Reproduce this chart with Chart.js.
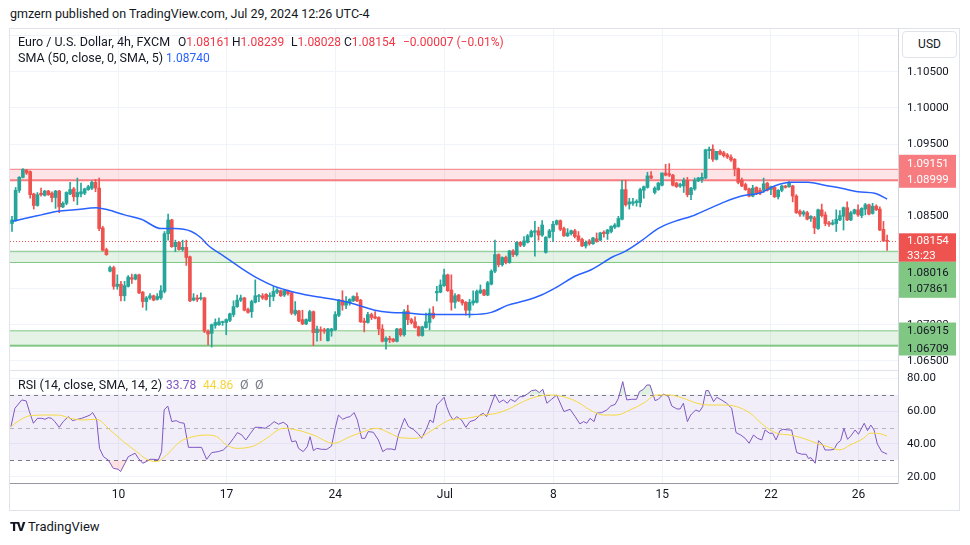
<!DOCTYPE html>
<html>
<head>
<meta charset="utf-8">
<title>EUR/USD 4h - TradingView</title>
<script src="https://cdn.jsdelivr.net/npm/chart.js@4.4.1/dist/chart.umd.min.js"></script>
<style>
  body { margin: 0; background: #fff; }
  #page { position: relative; width: 970px; height: 545px; overflow: hidden; font-family: Roboto, sans-serif; color: #131722; }
  #page canvas { position: absolute; left: 0; }
  .t { position: absolute; white-space: nowrap; line-height: 16px; font-size: 12.5px; }
  .v { font-size: 12px; }
  .rule { position: absolute; background: #E0E3EB; }
  .dn { color: #F23645; }
</style>
</head>
<body>
<div id="page">
  <canvas id="main" width="959" height="342" style="top:29px;width:959px;height:342px"></canvas>
  <canvas id="rsi" width="959" height="139" style="top:371px;width:959px;height:139px"></canvas>

  <div class="rule" style="left:9px;top:28px;width:951px;height:1px"></div>
  <div class="rule" style="left:9px;top:28px;width:1px;height:483px"></div>
  <div class="rule" style="left:959px;top:28px;width:1px;height:483px"></div>
  <div class="rule" style="left:9px;top:510px;width:951px;height:1px"></div>
  <div class="rule" style="left:10px;top:370px;width:888px;height:1px"></div>

  <div class="t" style="left:10px;top:6px">gmzern published on TradingView.com, Jul 29, 2024 12:26 UTC-4</div>

  <div class="t" style="left:18px;top:34px">Euro / U.S. Dollar, 4h, FXCM</div>
  <div class="t v" style="left:178px;top:34px">O<span class="dn">1.08161</span></div>
  <div class="t v" style="left:232px;top:34px">H<span class="dn">1.08239</span></div>
  <div class="t v" style="left:291px;top:34px">L<span class="dn">1.08028</span></div>
  <div class="t v" style="left:344px;top:34px">C<span class="dn">1.08154</span></div>
  <div class="t v dn" style="left:403px;top:34px">&minus;0.00007 (&minus;0.01%)</div>
  <div class="t" style="left:18px;top:50px">SMA (50, close, 0, SMA, 5)</div>
  <div class="t v" style="left:166px;top:50px;color:#2962FF">1.08740</div>

  <div class="t" style="left:18px;top:377px">RSI (14, close, SMA, 14, 2)</div>
  <div class="t v" style="left:166px;top:377px;color:#7E57C2">33.78</div>
  <div class="t v" style="left:203px;top:377px;color:#F5D53B">44.86</div>
  <div class="t" style="left:240px;top:377px;color:#787B86">&Oslash;</div>
  <div class="t" style="left:255px;top:377px;color:#787B86">&Oslash;</div>

  <div class="t" style="left:902px;top:31px;width:53px;height:25px;line-height:25px;border:1px solid #E0E3EB;border-radius:4px;background:#fff;text-align:center;font-size:12px">USD</div>

  <div class="t" style="left:10px;top:519px;font-weight:900;letter-spacing:-1.5px;font-size:13px">TV</div>
  <div class="t" style="left:28px;top:519px;font-size:13px">TradingView</div>
</div>

<script>
// EUR/USD 4h candles, oldest first
const opens = [
  1.0840,1.0844,1.0886,1.0904,1.0914,1.0912,1.0881,1.0865,1.0882,1.0879,
  1.0885,1.0882,1.0876,1.0885,1.0863,1.0868,1.0881,1.0888,1.0877,1.0881,
  1.0882,1.0887,1.0889,1.0897,1.0889,1.0834,1.0804,1.0774,1.0779,1.0753,
  1.0756,1.0740,1.0753,1.0765,1.0763,1.0769,1.0745,1.0732,1.0737,1.0740,
  1.0735,1.0737,1.0746,1.0826,1.0845,1.0808,1.0814,1.0804,1.0807,1.0794,
  1.0734,1.0737,1.0736,1.0737,1.0691,1.0688,1.0699,1.0700,1.0703,1.0703,
  1.0706,1.0714,1.0725,1.0734,1.0737,1.0721,1.0718,1.0731,1.0739,1.0740,
  1.0742,1.0739,1.0739,1.0745,1.0747,1.0741,1.0747,1.0744,1.0715,1.0719,
  1.0707,1.0701,1.0705,1.0718,1.0689,1.0693,1.0693,1.0678,1.0691,1.0693,
  1.0713,1.0734,1.0727,1.0730,1.0733,1.0739,1.0734,1.0705,1.0703,1.0714,
  1.0711,1.0710,1.0694,1.0677,1.0681,1.0680,1.0677,1.0694,1.0686,1.0719,
  1.0707,1.0704,1.0697,1.0685,1.0696,1.0703,1.0716,1.0744,1.0745,1.0754,
  1.0769,1.0748,1.0731,1.0741,1.0734,1.0731,1.0720,1.0730,1.0731,1.0744,
  1.0748,1.0741,1.0756,1.0774,1.0797,1.0783,1.0793,1.0786,1.0802,1.0797,
  1.0814,1.0810,1.0814,1.0822,1.0828,1.0830,1.0824,1.0800,1.0821,1.0829,
  1.0839,1.0844,1.0833,1.0823,1.0826,1.0830,1.0823,1.0818,1.0809,1.0816,
  1.0812,1.0819,1.0817,1.0828,1.0826,1.0829,1.0835,1.0836,1.0846,1.0887,
  1.0867,1.0868,1.0869,1.0869,1.0886,1.0890,1.0906,1.0883,1.0887,1.0893,
  1.0910,1.0909,1.0907,1.0896,1.0892,1.0892,1.0900,1.0880,1.0888,1.0899,
  1.0901,1.0903,1.0941,1.0943,1.0929,1.0940,1.0938,1.0935,1.0932,1.0929,
  1.0916,1.0900,1.0894,1.0888,1.0878,1.0890,1.0886,1.0886,1.0896,1.0887,
  1.0890,1.0877,1.0886,1.0892,1.0891,1.0892,1.0878,1.0857,1.0853,1.0855,
  1.0847,1.0848,1.0833,1.0859,1.0852,1.0841,1.0839,1.0840,1.0845,1.0850,
  1.0862,1.0845,1.0854,1.0859,1.0851,1.0860,1.0866,1.0854,1.0864,1.0860,
  1.0832,1.08161
];
const highs = [
  1.0850,1.0890,1.0905,1.0916,1.0915,1.0913,1.0882,1.0883,1.0889,1.0886,
  1.0886,1.0884,1.0886,1.0886,1.0870,1.0884,1.0897,1.0890,1.0903,1.0896,
  1.0889,1.0893,1.0899,1.0901,1.0903,1.0836,1.0806,1.0781,1.0781,1.0769,
  1.0760,1.0760,1.0768,1.0770,1.0770,1.0770,1.0746,1.0739,1.0743,1.0741,
  1.0743,1.0754,1.0829,1.0853,1.0846,1.0817,1.0815,1.0817,1.0817,1.0795,
  1.0743,1.0741,1.0744,1.0738,1.0693,1.0701,1.0708,1.0709,1.0705,1.0708,
  1.0716,1.0733,1.0741,1.0741,1.0738,1.0723,1.0734,1.0762,1.0742,1.0743,
  1.0743,1.0744,1.0753,1.0750,1.0748,1.0748,1.0748,1.0745,1.0732,1.0720,
  1.0720,1.0708,1.0720,1.0719,1.0698,1.0697,1.0695,1.0695,1.0695,1.0718,
  1.0735,1.0747,1.0739,1.0736,1.0740,1.0744,1.0735,1.0709,1.0717,1.0716,
  1.0718,1.0711,1.0700,1.0683,1.0684,1.0681,1.0695,1.0695,1.0721,1.0727,
  1.0709,1.0711,1.0698,1.0698,1.0716,1.0722,1.0725,1.0753,1.0762,1.0777,
  1.0770,1.0769,1.0743,1.0742,1.0735,1.0732,1.0735,1.0747,1.0748,1.0755,
  1.0749,1.0760,1.0776,1.0817,1.0798,1.0794,1.0795,1.0803,1.0804,1.0815,
  1.0815,1.0822,1.0825,1.0831,1.0843,1.0835,1.0844,1.0822,1.0832,1.0843,
  1.0845,1.0845,1.0835,1.0833,1.0831,1.0832,1.0829,1.0820,1.0816,1.0818,
  1.0821,1.0827,1.0828,1.0830,1.0832,1.0837,1.0840,1.0850,1.0900,1.0900,
  1.0875,1.0875,1.0873,1.0889,1.0892,1.0911,1.0912,1.0891,1.0897,1.0910,
  1.0922,1.0923,1.0908,1.0897,1.0896,1.0903,1.0904,1.0890,1.0903,1.0904,
  1.0910,1.0943,1.0946,1.0949,1.0940,1.0942,1.0940,1.0937,1.0935,1.0930,
  1.0917,1.0903,1.0896,1.0889,1.0893,1.0891,1.0889,1.0903,1.0897,1.0892,
  1.0891,1.0887,1.0893,1.0893,1.0898,1.0893,1.0880,1.0859,1.0858,1.0857,
  1.0851,1.0850,1.0860,1.0867,1.0856,1.0843,1.0845,1.0859,1.0858,1.0863,
  1.0870,1.0857,1.0860,1.0866,1.0862,1.0868,1.0867,1.0868,1.0866,1.0863,
  1.0843,1.08239
];
const lows = [
  1.0829,1.0843,1.0883,1.0903,1.0908,1.0875,1.0860,1.0864,1.0878,1.0878,
  1.0879,1.0870,1.0861,1.0855,1.0862,1.0866,1.0880,1.0871,1.0866,1.0877,
  1.0880,1.0886,1.0887,1.0884,1.0830,1.0802,1.0796,1.0773,1.0749,1.0749,
  1.0733,1.0733,1.0752,1.0757,1.0762,1.0743,1.0724,1.0720,1.0735,1.0733,
  1.0734,1.0735,1.0744,1.0817,1.0807,1.0801,1.0803,1.0802,1.0782,1.0732,
  1.0733,1.0732,1.0734,1.0689,1.0672,1.0669,1.0695,1.0699,1.0699,1.0686,
  1.0704,1.0711,1.0724,1.0732,1.0719,1.0716,1.0710,1.0730,1.0732,1.0735,
  1.0734,1.0725,1.0733,1.0743,1.0739,1.0739,1.0741,1.0714,1.0713,1.0704,
  1.0700,1.0700,1.0704,1.0671,1.0677,1.0678,1.0688,1.0677,1.0684,1.0692,
  1.0711,1.0720,1.0722,1.0727,1.0732,1.0732,1.0703,1.0690,1.0702,1.0707,
  1.0708,1.0686,1.0676,1.0666,1.0675,1.0676,1.0676,1.0684,1.0684,1.0700,
  1.0701,1.0695,1.0684,1.0684,1.0695,1.0693,1.0708,1.0733,1.0744,1.0753,
  1.0746,1.0720,1.0723,1.0732,1.0727,1.0713,1.0710,1.0727,1.0730,1.0743,
  1.0740,1.0740,1.0755,1.0772,1.0780,1.0781,1.0784,1.0785,1.0794,1.0795,
  1.0808,1.0808,1.0813,1.0821,1.0795,1.0817,1.0822,1.0799,1.0820,1.0815,
  1.0838,1.0830,1.0822,1.0822,1.0824,1.0820,1.0815,1.0808,1.0806,1.0810,
  1.0811,1.0814,1.0816,1.0821,1.0818,1.0827,1.0833,1.0835,1.0845,1.0864,
  1.0860,1.0865,1.0864,1.0863,1.0875,1.0889,1.0902,1.0881,1.0886,1.0892,
  1.0906,1.0905,1.0892,1.0890,1.0890,1.0883,1.0877,1.0873,1.0886,1.0898,
  1.0897,1.0902,1.0930,1.0926,1.0928,1.0935,1.0932,1.0930,1.0926,1.0906,
  1.0895,1.0891,1.0886,1.0877,1.0877,1.0880,1.0880,1.0883,1.0885,1.0880,
  1.0876,1.0874,1.0884,1.0889,1.0890,1.0870,1.0854,1.0850,1.0850,1.0845,
  1.0843,1.0826,1.0832,1.0849,1.0837,1.0836,1.0838,1.0829,1.0844,1.0831,
  1.0844,1.0844,1.0853,1.0850,1.0848,1.0852,1.0852,1.0853,1.0858,1.0830,
  1.0815,1.08028
];
const closes = [
  1.0845,1.0886,1.0904,1.0915,1.0910,1.0880,1.0865,1.0880,1.0880,1.0885,
  1.0880,1.0876,1.0885,1.0863,1.0868,1.0883,1.0887,1.0877,1.0883,1.0884,
  1.0888,1.0891,1.0897,1.0889,1.0833,1.0803,1.0797,1.0779,1.0753,1.0756,
  1.0740,1.0754,1.0766,1.0763,1.0769,1.0744,1.0732,1.0737,1.0740,1.0734,
  1.0739,1.0747,1.0826,1.0845,1.0808,1.0814,1.0804,1.0807,1.0793,1.0733,
  1.0737,1.0735,1.0737,1.0691,1.0687,1.0700,1.0703,1.0704,1.0704,1.0707,
  1.0715,1.0725,1.0734,1.0737,1.0720,1.0717,1.0732,1.0740,1.0740,1.0737,
  1.0735,1.0740,1.0746,1.0748,1.0740,1.0747,1.0743,1.0716,1.0720,1.0705,
  1.0701,1.0707,1.0718,1.0689,1.0694,1.0691,1.0691,1.0694,1.0694,1.0714,
  1.0734,1.0727,1.0732,1.0735,1.0739,1.0733,1.0704,1.0703,1.0714,1.0710,
  1.0709,1.0694,1.0677,1.0681,1.0679,1.0677,1.0694,1.0686,1.0718,1.0707,
  1.0703,1.0696,1.0685,1.0697,1.0704,1.0716,1.0710,1.0746,1.0755,1.0769,
  1.0747,1.0731,1.0740,1.0733,1.0730,1.0720,1.0731,1.0733,1.0746,1.0748,
  1.0741,1.0758,1.0774,1.0797,1.0783,1.0793,1.0786,1.0802,1.0797,1.0814,
  1.0810,1.0816,1.0823,1.0829,1.0830,1.0824,1.0838,1.0821,1.0830,1.0839,
  1.0844,1.0832,1.0823,1.0827,1.0830,1.0822,1.0817,1.0809,1.0814,1.0812,
  1.0820,1.0815,1.0827,1.0826,1.0831,1.0836,1.0838,1.0847,1.0887,1.0866,
  1.0870,1.0870,1.0871,1.0887,1.0891,1.0906,1.0903,1.0889,1.0896,1.0910,
  1.0907,1.0907,1.0893,1.0891,1.0894,1.0900,1.0880,1.0889,1.0900,1.0903,
  1.0904,1.0942,1.0943,1.0929,1.0940,1.0936,1.0934,1.0932,1.0928,1.0916,
  1.0897,1.0892,1.0887,1.0878,1.0889,1.0882,1.0882,1.0895,1.0886,1.0891,
  1.0877,1.0886,1.0892,1.0890,1.0896,1.0878,1.0855,1.0853,1.0856,1.0846,
  1.0850,1.0834,1.0859,1.0851,1.0840,1.0839,1.0841,1.0846,1.0851,1.0862,
  1.0845,1.0855,1.0859,1.0852,1.0861,1.0866,1.0853,1.0864,1.0859,1.0831,
  1.0816,1.08154
];

// SMA(50) line, read at points along the curve (bar index -> price)
const smaIdx = [0,3.5,8.1,12.7,17.3,23.2,26.4,31,35.6,41.1,44.8,49.4,52.1,54,58.6,63.2,67.7,72.3,76.9,82.4,
  90.7,95.3,99.9,104.5,109.1,113.7,118.2,126.5,132,136.6,141.2,145.8,150.4,155,159.5,165.5,168.7,173.3,177.9,
  182.5,187.1,191.7,196.3,200.9,206.4,210,214.6,219.2,223.8,228.4,233,237.6,241];
const smaVal = [1.0843,1.0847,1.0852,1.0857,1.0859,1.0862,1.0859,1.0852,1.0846,1.0833,1.0833,1.0829,1.0820,1.0810,
  1.0794,1.0778,1.0764,1.0753,1.0746,1.0740,1.0733,1.0727,1.0720,1.0717,1.0716,1.0714,1.0714,1.0714,1.0717,1.0727,
  1.0733,1.0741,1.0753,1.0767,1.0776,1.0794,1.0801,1.0816,1.0833,1.0843,1.0850,1.0860,1.0870,1.0878,1.0883,1.0892,
  1.0897,1.0897,1.0893,1.0889,1.0884,1.0882,1.0874];

// RSI(14) line, read at its turning points
const rsiIdx = [-0.3,0.8,2.7,3.9,4.8,5.9,7,8.2,9.1,10,10.9,11.8,13,14.1,15.5,16.7,18,19.2,20.4,21.5,22.2,23.3,24.1,
  25.2,26.5,27.9,29.3,29.9,31.1,32,33,33.9,34.8,36,37.1,38,39.1,40.3,41.2,41.9,42.9,44,45.2,46.3,47.4,48.6,49.9,
  52.2,53.6,55,56.8,58.2,59.6,61,62.1,63.3,64.4,65.7,66.9,68.3,69.7,71.1,72.2,73.4,74.7,75.8,77,78.2,78.9,80.2,
  81.3,82.1,83,83.9,85.3,86.7,88,89,89.9,91.1,92.2,93.1,94.2,95.1,96.3,97.2,98.1,99.5,100.9,102.1,103.2,104.6,
  105.5,106.4,108.1,109.2,110.5,111.9,112.8,114.2,115.1,116,117,117.9,119,119.7,120.6,121.5,122.5,123.8,125,
  126.1,127.5,128.9,129.8,130.7,131.6,133,134.2,135.3,136.4,137.3,138.5,139.9,140.8,141.9,143.1,144.3,145.2,
  146.2,147.3,148.6,150,152,153.7,155.1,156.4,157.4,158.3,159.2,160.3,161,162.4,163.8,164.9,166.1,167,168.2,
  169.3,170.7,172,172.8,173.9,174.8,175.7,177.1,178,179.4,180.8,181.7,183.1,184,184.9,186,186.9,188.3,189.3,
  190.2,191.1,191.8,193.2,194.1,195.4,196.8,198.2,199.4,200.7,201.9,203,204.2,205.3,206.5,207.4,208.6,209.5,
  210.4,211.5,212.4,213.8,214.7,216.1,217.5,218.7,219.3,220,221.2,222.1,223.3,223.9,225.3,226.4,227.3,228.2,
  229.1,230.1,231,232.2,233.1,234.7,235.6,236.5,237.4,238.3,239.5,241];
const rsiVal = [50.5,61.7,66.8,66.2,59.7,52.6,55.6,55.6,55,56,55.6,53.6,50.1,53.6,56.6,54.2,55,55.6,56.6,57.6,59.1,
  55,37.3,32.2,30.2,25.1,24.5,23.1,28.2,32.2,33.3,34.3,31.2,28.2,29.3,30.6,30.6,30.2,35.3,60.7,63.1,53.6,54.2,53,
  52.6,37.9,37.9,37.9,30.6,34.7,35.3,36.3,39.3,43.4,46.9,45.4,42.4,46.5,50.1,50.1,49.5,51.5,53.6,52,53.2,51.5,
  41.4,41.8,37.3,35.3,38.3,44.4,35.9,37.3,36.7,36.7,38.7,49.5,57.6,55,56.2,56.6,59.1,54.6,43.4,43.4,47.5,47.1,
  42.4,35.3,36.9,36.9,36.3,45.4,55.6,50.5,48.9,46.1,43.4,49.5,54.6,53,63.7,65.8,68.4,62.7,57.6,54.6,56.6,54.6,
  50.1,53.6,54.6,57.6,58.7,56.6,61.7,70.2,65.2,66.8,64.8,67.2,65.8,68.8,68.8,70.4,72.5,72.9,71.3,73.3,64.8,
  67.2,69.8,59.7,61.1,56.6,52.2,53.6,52.6,55.6,53.6,58.7,59.1,60.7,63.1,64.1,67.8,78,66.8,67.2,67.2,71.9,73.3,
  75.9,75.9,66.4,67.2,70.4,68.8,63.1,61.3,61.3,64.8,53.6,57.6,60.7,59.7,62.7,72.5,72.5,65.8,68.4,66.8,64.8,61.7,
  46.9,45.4,43.4,40.4,45.4,43.4,42.4,48.5,46.5,46.5,42.4,48.1,48.9,48.5,48.5,34.7,33.7,33.7,31.2,31.6,28.2,42,
  39.3,36.3,36.3,36.7,40.4,42,49.5,42.8,44.8,48.5,45.9,52.6,48.1,51.5,48.5,40,35.3,33.78];

// RSI moving average (yellow)
const maIdx = [-0.3,2.2,5,8.6,12.8,16,19.6,23.3,27,30.7,34.3,37.1,39.8,42.6,46.3,49.9,53.6,56.4,59.1,61.9,66.5,
  70.1,74.7,78.4,83,88.5,93.1,96.8,100.4,104.1,106.9,111.4,115.1,117.9,120.6,125.2,129.8,133.5,137.2,140.8,144.5,
  148.2,151.8,155.5,159.2,162.9,166.5,170.2,173.9,177.5,181.2,184.9,188.6,192.2,195.9,199.6,203.3,206.9,210.6,
  214.3,217.9,221.6,225.3,228,230.8,234.5,236.3,238.1,241];
const maVal = [50.5,54.6,57.2,57.6,57.6,55.6,54.6,55,48.5,41.4,35.3,30.6,29.2,33.3,41.4,44.4,45.4,44.4,39.3,37.3,
  38.7,43.4,49.5,48.5,45.4,40.4,44.4,47.5,49.5,46.5,43.8,43.4,47.5,51.5,54.6,55.6,57.6,58.7,61.7,65.8,68.8,69.8,
  68.8,65.8,60.7,57.6,57.6,60.7,64.8,69.8,69.8,67.8,64.8,63.7,63.7,62.7,58.7,51.5,46.5,45.4,43.4,40.4,37.9,36.3,
  39.3,43.4,46.5,46.5,44.86];

// support / resistance zones (upper and lower edge)
const zoneHi = [1.09151, 1.08016, 1.06915];
const zoneLo = [1.08999, 1.07861, 1.06709];

// axis ticks
const tickIdx = [29.3, 59.1, 89, 119.2, 149.1, 179.1, 209, 233.1];
const tickLabels = ['10', '17', '24', 'Jul', '8', '15', '22', '26'];
const priceTicks = [1.065, 1.070, 1.075, 1.080, 1.085, 1.090, 1.095, 1.100, 1.105, 1.110];
const rsiTicks = [20, 40, 60, 80];
const rsiLevels = [70, 50, 30];
const countdown = '33:23';

// visible ranges
const xMin = -0.55, xMax = 244.0;
const yMin = 1.063585, yMax = 1.110934;
const rMin = 16.16, rMax = 84.45;

const UP = '#26A69A', DOWN = '#EF5350';
const GRID = '#F0F3FA';
const zoneStyle = [
  { fill: 'rgba(242,54,69,0.13)', line: '#F77C80', top: 1, bottom: 2 },
  { fill: 'rgba(76,175,80,0.15)', line: '#81C784', top: 1, bottom: 1 },
  { fill: 'rgba(76,175,80,0.15)', line: '#81C784', top: 1, bottom: 2 }
];

Chart.defaults.font.family = 'Roboto';
Chart.defaults.color = '#131722';

const bars = opens.map((o, i) => i);
const barColor = bars.map(i => closes[i] >= opens[i] ? UP : DOWN);
const lastClose = closes[closes.length - 1];

const mainDecor = {
  id: 'mainDecor',
  beforeDatasetsDraw(chart) {
    const { ctx, chartArea: a, scales: { y } } = chart;
    ctx.save();
    zoneHi.forEach((hi, k) => {
      const t = y.getPixelForValue(hi), b = y.getPixelForValue(zoneLo[k]);
      const s = zoneStyle[k];
      ctx.fillStyle = s.fill;
      ctx.fillRect(a.left, t, a.right - a.left, b - t);
      ctx.fillStyle = s.line;
      ctx.fillRect(a.left, t - s.top / 2, a.right - a.left, s.top);
      ctx.fillRect(a.left, b - s.bottom / 2, a.right - a.left, s.bottom);
    });
    const py = Math.round(y.getPixelForValue(lastClose)) + 0.5;
    ctx.strokeStyle = DOWN;
    ctx.lineWidth = 1;
    ctx.setLineDash([1, 2]);
    ctx.beginPath();
    ctx.moveTo(a.left, py);
    ctx.lineTo(a.right, py);
    ctx.stroke();
    ctx.restore();
  },
  afterDraw(chart) {
    const { ctx, chartArea: a, scales: { y } } = chart;
    const x0 = a.right + 1, w = 57;
    ctx.save();
    ctx.font = '11.5px Roboto';
    ctx.textBaseline = 'middle';
    const box = (top, bottom, bg, fg, rows) => {
      ctx.fillStyle = bg;
      ctx.fillRect(x0, top, w, bottom - top);
      ctx.fillStyle = fg;
      rows.forEach(r => ctx.fillText(r[0], x0 + 8, r[1]));
    };
    let c2 = y.getPixelForValue(zoneLo[0]), c1 = c2 - 16.5;
    box(c1 - 9, c2 + 7.5, '#F77C80', '#fff', [[zoneHi[0].toFixed(5), c1], [zoneLo[0].toFixed(5), c2]]);
    c1 = y.getPixelForValue(lastClose); c2 = c1 + 15;
    const curBottom = c2 + 5.5;
    box(c1 - 8, curBottom, DOWN, '#fff', [[lastClose.toFixed(5), c1], [countdown, c2]]);
    c1 = curBottom + 11.5; c2 = c1 + 16;
    box(curBottom, c2 + 8.5, '#81C784', '#131722', [[zoneHi[1].toFixed(5), c1], [zoneLo[1].toFixed(5), c2]]);
    c1 = y.getPixelForValue(zoneHi[2]) + 0.7; c2 = c1 + 17.5;
    box(c1 - 9, c2 + 6.5, '#81C784', '#131722', [[zoneHi[2].toFixed(5), c1], [zoneLo[2].toFixed(5), c2]]);
    ctx.restore();
  }
};

new Chart(document.getElementById('main'), {
  type: 'bar',
  data: {
    datasets: [
      {
        type: 'line', label: 'SMA',
        data: smaIdx.map((x, i) => ({ x, y: smaVal[i] })),
        borderColor: '#2962FF', borderWidth: 1.5, pointRadius: 0,
        cubicInterpolationMode: 'monotone', order: 0
      },
      {
        label: 'body',
        data: bars.map(i => ({ x: i, y: [opens[i], closes[i]] })),
        backgroundColor: barColor, barThickness: 3, minBarLength: 1,
        grouped: false, order: 1
      },
      {
        label: 'wick',
        data: bars.map(i => ({ x: i, y: [lows[i], highs[i]] })),
        backgroundColor: barColor, barThickness: 1,
        grouped: false, order: 2
      }
    ]
  },
  options: {
    responsive: false, animation: false, devicePixelRatio: 1,
    layout: { padding: { left: 10, right: 0, top: 0, bottom: 0 } },
    plugins: { legend: { display: false }, tooltip: { enabled: false } },
    scales: {
      x: {
        type: 'linear', min: xMin, max: xMax, offset: false,
        afterBuildTicks: s => { s.ticks = tickIdx.map(v => ({ value: v })); },
        afterFit: s => { s.height = 0; s.paddingLeft = 0; s.paddingRight = 0; },
        ticks: { display: false },
        grid: { color: GRID, drawTicks: false, offset: false },
        border: { display: false }
      },
      y: {
        position: 'right', min: yMin, max: yMax,
        afterBuildTicks: s => { s.ticks = priceTicks.map(v => ({ value: v })); },
        afterFit: s => { s.width = 61; s.paddingTop = 0; s.paddingBottom = 0; },
        ticks: { callback: v => v.toFixed(5), color: '#131722', font: { size: 11.5 }, padding: 9 },
        grid: { color: GRID, drawTicks: false },
        border: { color: '#D1D4DC' }
      }
    }
  },
  plugins: [mainDecor]
});

const rsiBand = {
  id: 'rsiBand',
  beforeDatasetsDraw(chart) {
    const { ctx, chartArea: a, scales: { y } } = chart;
    const t = y.getPixelForValue(rsiLevels[0]), b = y.getPixelForValue(rsiLevels[2]);
    ctx.save();
    ctx.fillStyle = 'rgba(126,87,194,0.1)';
    ctx.fillRect(a.left, t, a.right - a.left, b - t);
    ctx.lineWidth = 1;
    ctx.setLineDash([4, 4]);
    rsiLevels.forEach((lv, k) => {
      const yy = Math.round(y.getPixelForValue(lv)) + 0.5;
      ctx.strokeStyle = k === 1 ? 'rgba(120,123,134,0.5)' : '#787B86';
      ctx.beginPath();
      ctx.moveTo(a.left, yy);
      ctx.lineTo(a.right, yy);
      ctx.stroke();
    });
    ctx.restore();
  }
};

const rsiPts = rsiIdx.map((x, i) => ({ x, y: rsiVal[i] }));

new Chart(document.getElementById('rsi'), {
  type: 'line',
  data: {
    datasets: [
      {
        label: 'RSI', data: rsiPts,
        borderColor: '#7E57C2', borderWidth: 1, pointRadius: 0, order: 1,
        fill: { target: { value: rsiLevels[2] }, above: 'rgba(0,0,0,0)', below: 'rgba(242,54,69,0.15)' }
      },
      {
        label: 'RSI ob', data: rsiPts,
        borderWidth: 0, borderColor: 'rgba(0,0,0,0)', pointRadius: 0, order: 2,
        fill: { target: { value: rsiLevels[0] }, above: 'rgba(76,175,80,0.18)', below: 'rgba(0,0,0,0)' }
      },
      {
        label: 'RSI MA', data: maIdx.map((x, i) => ({ x, y: maVal[i] })),
        borderColor: '#F5D842', borderWidth: 1, pointRadius: 0,
        cubicInterpolationMode: 'monotone', order: 0
      }
    ]
  },
  options: {
    responsive: false, animation: false, devicePixelRatio: 1,
    layout: { padding: { left: 10, right: 0, top: 0, bottom: 0 } },
    plugins: { legend: { display: false }, tooltip: { enabled: false } },
    scales: {
      x: {
        type: 'linear', min: xMin, max: xMax, offset: false,
        afterBuildTicks: s => { s.ticks = tickIdx.map(v => ({ value: v })); },
        afterFit: s => { s.height = 27; s.paddingLeft = 0; s.paddingRight = 0; },
        ticks: { callback: (v, i) => tickLabels[i], color: '#131722', font: { size: 12 }, padding: 5, maxRotation: 0, autoSkip: false },
        grid: { color: GRID, drawTicks: false, offset: false },
        border: { color: '#9598A1' }
      },
      y: {
        position: 'right', min: rMin, max: rMax,
        afterBuildTicks: s => { s.ticks = rsiTicks.map(v => ({ value: v })); },
        afterFit: s => { s.width = 61; s.paddingTop = 0; s.paddingBottom = 0; },
        ticks: { callback: v => v.toFixed(2), color: '#131722', font: { size: 11.5 }, padding: 9 },
        grid: { color: GRID, drawTicks: false },
        border: { color: '#D1D4DC' }
      }
    }
  },
  plugins: [rsiBand]
});
</script>
</body>
</html>
